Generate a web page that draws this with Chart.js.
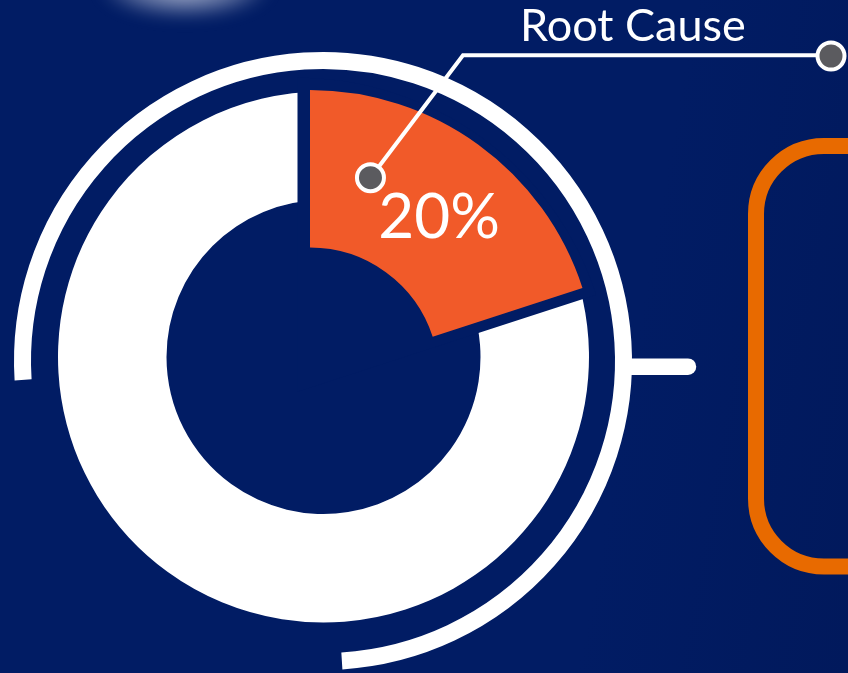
<!DOCTYPE html>
<html>
<head>
<meta charset="utf-8">
<script src="https://cdn.jsdelivr.net/npm/chart.js@4.4.1/dist/chart.umd.min.js"></script>
<style>
  html, body { margin: 0; padding: 0; width: 848px; height: 673px; overflow: hidden; background: #011c64; }
  #stage { position: relative; width: 848px; height: 673px; overflow: hidden;
           background: linear-gradient(100deg, #011c64 0%, #011c64 72%, #01195c 100%); }
  #stage canvas { position: absolute; left: 0; top: 0; }
  .glow { position: absolute; left: 100px; top: -42px; width: 170px; height: 60px; border-radius: 50%;
          background: radial-gradient(ellipse at center, rgba(215,220,235,0.8) 0%, rgba(215,220,235,0.4) 45%, rgba(215,220,235,0) 72%);
          filter: blur(8px); }
</style>
</head>
<body>
<div id="stage">
  <div class="glow"></div>
  <canvas id="ring" width="848" height="673"></canvas>
  <canvas id="gap" width="848" height="673"></canvas>
  <canvas id="slice" width="848" height="673"></canvas>
</div>
<script>
// Share of causes: the highlighted root cause against everything else
const categories = ['Root Cause', 'Other'];
const shares = [20, 80];
const highlightColor = '#F15A29';
const restColor = '#FFFFFF';
const calloutTitle = 'Root Cause';

const W = 848, H = 673;
const BG = '#011c64';
const rad = d => d * Math.PI / 180;

// Layout padding that puts the centre of the chart area at (cx, cy)
function padFor(cx, cy) {
  return {
    left: cx < W / 2 ? 0 : 2 * cx - W,
    right: cx < W / 2 ? W - 2 * cx : 0,
    top: cy < H / 2 ? 0 : 2 * cy - H,
    bottom: cy < H / 2 ? H - 2 * cy : 0
  };
}

function ring(id, cx, cy, outer, inner, colors, plugins) {
  return new Chart(document.getElementById(id), {
    type: 'doughnut',
    data: {
      labels: categories,
      datasets: [{
        data: shares,
        backgroundColor: colors,
        borderWidth: 0,
        hoverOffset: 0,
        clip: false
      }]
    },
    options: {
      responsive: false,
      animation: false,
      events: [],
      radius: outer,
      cutout: (inner / outer * 100) + '%',
      layout: { padding: padFor(cx, cy) },
      plugins: { legend: { display: false }, tooltip: { enabled: false } }
    },
    plugins: plugins || []
  });
}

// Thin three-quarter frame around the ring and its side tab
const frame = {
  id: 'frame',
  beforeDatasetsDraw(chart) {
    const ctx = chart.ctx;
    ctx.save();
    ctx.strokeStyle = '#ffffff';
    ctx.lineWidth = 17;
    ctx.lineCap = 'butt';
    ctx.beginPath();
    ctx.arc(323, 361, 300.5, rad(176.4), rad(446.4));
    ctx.stroke();
    ctx.lineCap = 'round';
    ctx.lineWidth = 16.5;
    ctx.beginPath();
    ctx.moveTo(628, 366.7);
    ctx.lineTo(688, 366.7);
    ctx.stroke();

    // rounded text panel on the right
    ctx.strokeStyle = '#E86A00';
    ctx.lineWidth = 16;
    const x = 756, y = 146, w = 320, h = 420.5, r = 68;
    ctx.beginPath();
    ctx.moveTo(x + r, y);
    ctx.lineTo(x + w, y);
    ctx.lineTo(x + w, y + h);
    ctx.lineTo(x + r, y + h);
    ctx.arcTo(x, y + h, x, y + h - r, r);
    ctx.lineTo(x, y + r);
    ctx.arcTo(x, y, x + r, y, r);
    ctx.closePath();
    ctx.stroke();
    ctx.restore();
  }
};

function dot(ctx, x, y) {
  ctx.beginPath();
  ctx.arc(x, y, 13.5, 0, Math.PI * 2);
  ctx.fillStyle = '#5B5B5F';
  ctx.fill();
  ctx.lineWidth = 4;
  ctx.strokeStyle = '#ffffff';
  ctx.stroke();
}

// Value label, leader line and title for the highlighted slice
const callout = {
  id: 'callout',
  afterDatasetsDraw(chart) {
    const ctx = chart.ctx;
    const arc = chart.getDatasetMeta(0).data[0];
    const { x, y, startAngle, endAngle, innerRadius, outerRadius } = arc;
    const a = startAngle + (endAngle - startAngle) * 0.235;
    const r = (innerRadius + outerRadius) / 2;
    const px = x + Math.cos(a) * r, py = y + Math.sin(a) * r;
    const c = arc.getCenterPoint();

    ctx.save();
    ctx.fillStyle = '#ffffff';
    ctx.font = '400 62px Lato, "Open Sans", sans-serif';
    ctx.textAlign = 'center';
    ctx.textBaseline = 'alphabetic';
    ctx.fillText(shares[0] + '%', c.x + 7, c.y + 30);

    ctx.strokeStyle = '#ffffff';
    ctx.lineWidth = 4;
    ctx.lineJoin = 'miter';
    ctx.beginPath();
    ctx.moveTo(px, py);
    ctx.lineTo(463, 55.3);
    ctx.lineTo(831, 55.3);
    ctx.stroke();

    dot(ctx, px, py);
    dot(ctx, 831, 56);

    ctx.fillStyle = '#ffffff';
    ctx.font = '400 45px Lato, "Open Sans", sans-serif';
    ctx.textAlign = 'left';
    ctx.fillText(calloutTitle, 520, 40.7);
    ctx.restore();
  }
};

// Ring of the remaining share
ring('ring', 323.5, 357, 265.5, 157, ['rgba(0,0,0,0)', restColor], [frame]);
// Background wedge that opens the gap around the highlighted share
ring('gap', 297.5, 391.8, 314, 0, [BG, 'rgba(0,0,0,0)']);
// Highlighted share, pulled in toward the centre
ring('slice', 310, 376.5, 286.5, 129, [highlightColor, 'rgba(0,0,0,0)'], [callout]);
</script>
</body>
</html>
